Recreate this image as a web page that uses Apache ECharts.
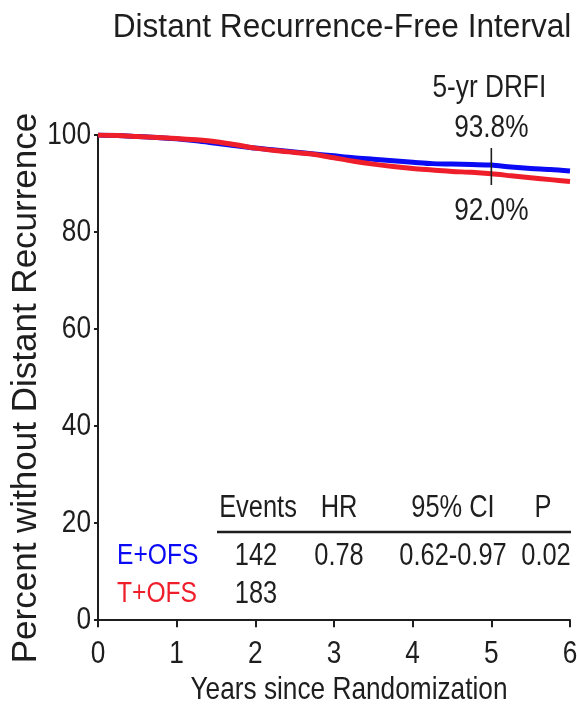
<!DOCTYPE html>
<html>
<head>
<meta charset="utf-8">
<title>Distant Recurrence-Free Interval</title>
<script src="https://cdn.jsdelivr.net/npm/echarts@6/dist/echarts.min.js"></script>
<style>
  html, body { margin: 0; padding: 0; background: #ffffff; }
  #chart { width: 577px; height: 711px; }
</style>
</head>
<body>
<div id="chart"></div>
<script>
// Kaplan-Meier estimates (percent free of distant recurrence) by year
const years = [0, 0.25, 0.5, 0.75, 1, 1.25, 1.5, 1.75, 2, 2.25, 2.5, 2.75, 3,
               3.25, 3.5, 3.75, 4, 4.25, 4.5, 4.75, 5, 5.25, 5.5, 5.75, 6];
const eOfs = [100, 99.9, 99.7, 99.5, 99.2, 98.8, 98.3, 97.8, 97.3, 96.9, 96.5, 96.1, 95.7,
              95.3, 95.0, 94.7, 94.4, 94.1, 94.0, 93.9, 93.8, 93.4, 93.1, 92.9, 92.6];
const tOfs = [100, 99.9, 99.7, 99.5, 99.3, 99.0, 98.6, 98.0, 97.3, 96.8, 96.4, 96.0, 95.3,
              94.6, 94.0, 93.5, 93.1, 92.8, 92.5, 92.3, 92.0, 91.6, 91.2, 90.8, 90.4];

// 5-year landmark
const landmarkYear = 5;
const landmarkE = 93.8;
const landmarkT = 92.0;
const landmarkSpan = [97.3, 89.7];

// Axis ticks
const xTicks = [0, 1, 2, 3, 4, 5, 6];
const yTicks = [0, 20, 40, 60, 80, 100];

// Summary table
const tableHeader = ['Events', 'HR', '95% CI', 'P'];
const groups = ['E+OFS', 'T+OFS'];
const events = ['142', '183'];
const hazardRatio = '0.78';
const ci95 = '0.62-0.97';
const pValue = '0.02';

const BLUE = '#0a0af5';
const RED = '#ee1f2b';
const INK = '#1e1e1e';
const SANS = "'Liberation Sans', Arial, sans-serif";
// condensed look: regular sans squeezed horizontally
const NARROW_SCALE = 0.82;

const chart = echarts.init(document.getElementById('chart'), null, { renderer: 'canvas' });

const zip = (xs, ys) => xs.map((x, i) => [x, ys[i]]);

chart.setOption({
  animation: false,
  backgroundColor: '#ffffff',
  grid: { left: 98, right: 7, top: 135, bottom: 85, containLabel: false },
  xAxis: {
    type: 'value', min: 0, max: 6, interval: 1,
    axisLine: { show: true, lineStyle: { color: INK, width: 2 } },
    axisTick: { show: true, length: 7, lineStyle: { color: INK, width: 2 } },
    axisLabel: { show: false },
    splitLine: { show: false }
  },
  yAxis: {
    type: 'value', min: -1.2, max: 100,
    axisLine: { show: true, lineStyle: { color: INK, width: 2 } },
    axisTick: { show: true, length: 4, lineStyle: { color: INK, width: 2 }, customValues: yTicks },
    axisLabel: { show: false },
    splitLine: { show: false }
  },
  series: [
    {
      name: 'E+OFS', type: 'line', data: zip(years, eOfs),
      showSymbol: false, smooth: 0.3,
      lineStyle: { color: BLUE, width: 5 }, z: 3
    },
    {
      name: 'T+OFS', type: 'line', data: zip(years, tOfs),
      showSymbol: false, smooth: 0.3,
      lineStyle: { color: RED, width: 5 }, z: 4
    },
    {
      name: 'landmark', type: 'line',
      data: landmarkSpan.map(v => [landmarkYear, v]),
      showSymbol: false, silent: true,
      lineStyle: { color: INK, width: 1.6 }, z: 5
    }
  ]
});

const toPx = (x, y) => chart.convertToPixel({ gridIndex: 0 }, [x, y]);

// Text helper; condensed text uses scaleX around its anchor point
const txt = (x, y, text, opts, scaleX) => ({
  type: 'text', x: x, y: y, scaleX: scaleX == null ? NARROW_SCALE : scaleX,
  style: Object.assign({
    text: text, fill: INK, font: '31px ' + SANS,
    textAlign: 'center', textVerticalAlign: 'middle'
  }, opts || {})
});

const pE = toPx(landmarkYear, landmarkE);
const pT = toPx(landmarkYear, landmarkT);
const axisBottom = toPx(0, -1.2)[1];

const colX = [258, 339, 453, 543];
const headerY = 508;
const rowY = [556, 594];

const graphics = [
  txt(342, 28, 'Distant Recurrence-Free Interval', { font: '34px ' + SANS }, 0.93),
  Object.assign(txt(0, 0, 'Percent without Distant Recurrence', { font: '35px ' + SANS }, 1), {
    x: 26, y: 388, rotation: Math.PI / 2
  }),
  txt(349, 690, 'Years since Randomization', { font: '32px ' + SANS }),
  txt(pE[0] - 2, 88, '5-yr DRFI', { font: '32px ' + SANS }),
  txt(pE[0], pE[1] - 37, landmarkE.toFixed(1) + '%', { font: '32px ' + SANS }),
  txt(pT[0], pT[1] + 37, landmarkT.toFixed(1) + '%', { font: '32px ' + SANS }),
  {
    type: 'line', shape: { x1: 217, y1: 532, x2: 571, y2: 532 },
    style: { stroke: INK, lineWidth: 2.5 }
  }
];

// Tick labels placed through the axis scales
xTicks.forEach(v => {
  const p = toPx(v, 0);
  graphics.push(txt(p[0], axisBottom + 28, String(v), { font: '32px ' + SANS }));
});
yTicks.forEach(v => {
  const p = toPx(0, v);
  graphics.push(txt(p[0] - 7, p[1], String(v), { font: '32px ' + SANS, textAlign: 'right' }));
});

tableHeader.forEach((h, i) => graphics.push(txt(colX[i], headerY, h)));
groups.forEach((g, i) => {
  graphics.push(txt(117, rowY[i], g, { textAlign: 'left', fill: i === 0 ? BLUE : RED, font: '30px ' + SANS }));
  graphics.push(txt(colX[0] - 2, rowY[i], events[i]));
});
graphics.push(txt(colX[1], rowY[0], hazardRatio));
graphics.push(txt(colX[2], rowY[0], ci95));
graphics.push(txt(colX[3] + 3, rowY[0], pValue));

chart.setOption({ graphic: { elements: graphics } });
</script>
</body>
</html>
